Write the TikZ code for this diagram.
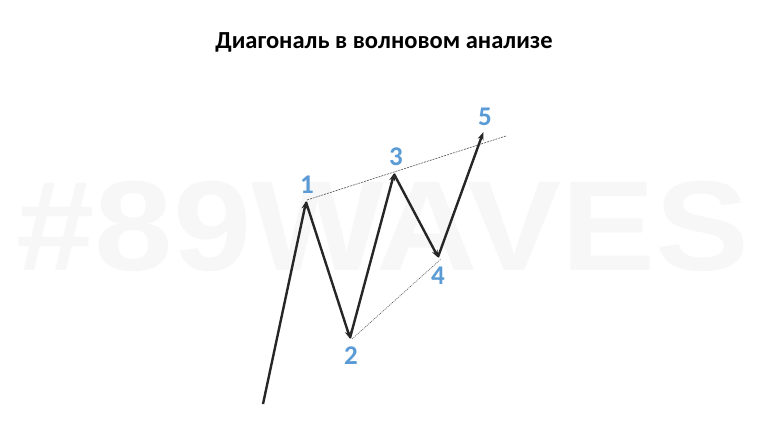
\documentclass[tikz,border=0pt]{standalone}
\usepackage{fontspec}
\setmainfont{Carlito}
\newfontfamily\wmfont{Liberation Sans}
\usetikzlibrary{arrows.meta}
\definecolor{numblue}{HTML}{5B9BD5}
\definecolor{wave}{HTML}{262626}
\definecolor{wm}{HTML}{F7F7F7}
\tikzset{
  wavearrow/.style={draw=wave, line width=2.4pt, -{Stealth[length=8pt,width=6pt]}, shorten >=-1pt},
  guide/.style={draw=wave!80, line width=0.6pt, dash pattern=on 2pt off 1pt},
  num/.style={text=numblue, font=\bfseries\fontsize{27}{27}\selectfont, inner sep=0pt},
}
\begin{document}
\begin{tikzpicture}[x=1pt,y=-1pt]
\useasboundingbox (0,0) rectangle (768,431);
\fill[white] (0,0) rectangle (768,431);
\node[text=wm, font=\wmfont\bfseries\fontsize{128}{128}\selectfont, xscale=1.10, inner sep=0pt] (wmark) at (383,226) {\#89WAVES};
\node[font=\bfseries\fontsize{24.5}{24.5}\selectfont, inner sep=0pt] (title) at (384,42) {Диагональ в волновом анализе};
\coordinate (s) at (263,404);
\coordinate (p1) at (306,202);
\coordinate (p2) at (350,338);
\coordinate (p3) at (394,174);
\coordinate (p4) at (438,257);
\coordinate (p5) at (483,133);
\coordinate (g1) at (307,200);
\coordinate (g2) at (506,136);
\coordinate (h1) at (352,339);
\coordinate (h2) at (441,259);
\draw[guide] (g1) -- (g2);
\draw[guide, dash pattern=on 1pt off 1pt] (h1) -- (h2);
\draw[wavearrow] (s) -- (p1);
\draw[wavearrow] (p1) -- (p2);
\draw[wavearrow] (p2) -- (p3);
\draw[wavearrow] (p3) -- (p4);
\draw[wavearrow] (p4) -- (p5);
\node[num] (n1) at (307,185) {1};
\node[num] (n2) at (351,356) {2};
\node[num] (n3) at (396,157) {3};
\node[num] (n4) at (438,276) {4};
\node[num] (n5) at (485,117) {5};
\end{tikzpicture}
\end{document}
